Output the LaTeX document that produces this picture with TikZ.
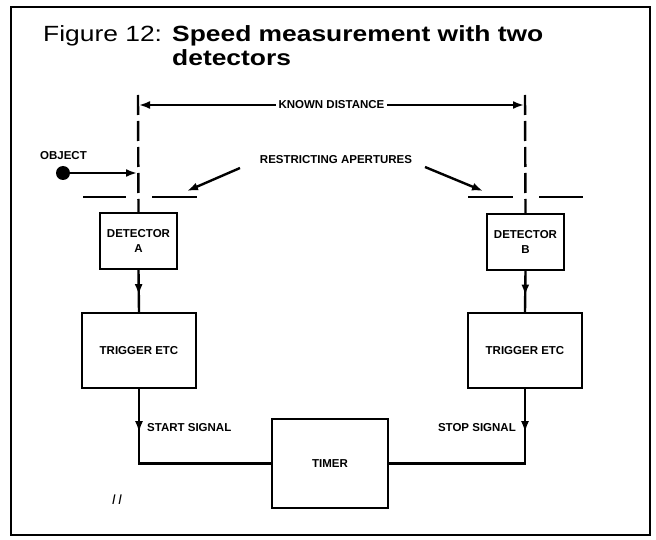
\documentclass[tikz,border=0pt]{standalone}
\usepackage{fontspec}
\setmainfont{Liberation Sans}
\usetikzlibrary{arrows.meta,decorations.markings}
\tikzset{
  lbl/.style={font=\fontsize{11.5}{13}\selectfont\bfseries, inner sep=0pt, align=center},
  blockbox/.style={draw, line width=2.4pt, inner sep=0pt, font=\fontsize{11.5}{14}\selectfont\bfseries, align=center},
  conn/.style={line width=2.4pt},
  tip/.style={-{Latex[length=11pt,width=8pt]}},
  midarrow/.style={postaction={decorate}, decoration={markings, mark=at position #1 with {\arrow{Latex[length=11pt,width=8pt]}}}},
  dashline/.style={line width=2.4pt, dash pattern=on 20pt off 6pt},
  aperture/.style={line width=2.8pt},
  titlefont/.style={font=\fontsize{22}{26}\selectfont, inner sep=0pt, anchor=base west}
}
\begin{document}
\begin{tikzpicture}[x=1pt,y=-1pt]
\useasboundingbox (0,0) rectangle (656,540);
% frame
\draw[line width=1.8pt] (11,7) rectangle (650,535);
% title
\node[titlefont] (t1) at (43,42) {\scalebox{1.2}[1]{Figure 12:}};
\node[titlefont, font=\fontsize{22}{26}\selectfont\bfseries] (t2) at (172,42) {\scalebox{1.2}[1]{Speed measurement with two}};
\node[titlefont, font=\fontsize{22}{26}\selectfont\bfseries] (t3) at (172,66) {\scalebox{1.2}[1]{detectors}};
% blocks
\node[blockbox, minimum width=77, minimum height=56] (da) at (138.5,241) {DETECTOR\\[1pt]A};
\node[blockbox, minimum width=77, minimum height=56] (db) at (525.5,242) {DETECTOR\\[1pt]B};
\node[blockbox, minimum width=114, minimum height=75] (ta) at (139,350.5) {TRIGGER ETC};
\node[blockbox, minimum width=114, minimum height=75] (tb) at (525,350.5) {TRIGGER ETC};
\node[blockbox, minimum width=116, minimum height=89] (tm) at (330,463.5) {TIMER};
% dashed detector lines
\coordinate (ltop) at (138,95);
\coordinate (rtop) at (525,95);
\draw[dashline] (ltop) -- (da.north);
\draw[dashline] (rtop) -- (db.north);
% known distance
\coordinate (kl) at (139,105);
\coordinate (kr) at (524,105);
\draw[conn, {Latex[length=11pt,width=8pt]}-{Latex[length=11pt,width=8pt]}] (kl) -- node[lbl, fill=white, inner xsep=3pt, inner ysep=2pt] (kd) {KNOWN DISTANCE} (kr);
% object
\node[circle, fill, minimum size=14, inner sep=0pt] (obj) at (63,173) {};
\node[lbl] (objl) at (63.5,156) {OBJECT};
\coordinate (objtip) at (137,173);
\draw[conn, tip] (obj) -- (objtip);
% restricting apertures
\node[lbl] (ra) at (336,160) {RESTRICTING APERTURES};
\coordinate (ra1s) at (240,168);
\coordinate (ra1e) at (187,191);
\coordinate (ra2s) at (425,167);
\coordinate (ra2e) at (483,191);
\draw[conn, tip] (ra1s) -- (ra1e);
\draw[conn, tip] (ra2s) -- (ra2e);
% aperture bars
\draw[aperture] (83,197) -- (126,197);
\draw[aperture] (152,197) -- (197,197);
\draw[aperture] (468,197) -- (513,197);
\draw[aperture] (539,197) -- (583,197);
% detector to trigger
\draw[conn, midarrow=0.6] (da.south) -- (ta.north);
\draw[conn, midarrow=0.6] (db.south) -- (tb.north);
% to timer
\draw[conn, midarrow=43pt] (ta.south) -- (ta.south |- tm.west) -- (tm.west);
\draw[conn, midarrow=43pt] (tb.south) -- (tb.south |- tm.east) -- (tm.east);
\node[lbl, anchor=west] (ss) at (147,428) {START SIGNAL};
\node[lbl, anchor=east] (st) at (516,428) {STOP SIGNAL};
% stray mark
\node[font=\fontsize{14}{14}\selectfont\itshape, inner sep=0pt] (mk) at (117,500) {I\,I};
\end{tikzpicture}
\end{document}
